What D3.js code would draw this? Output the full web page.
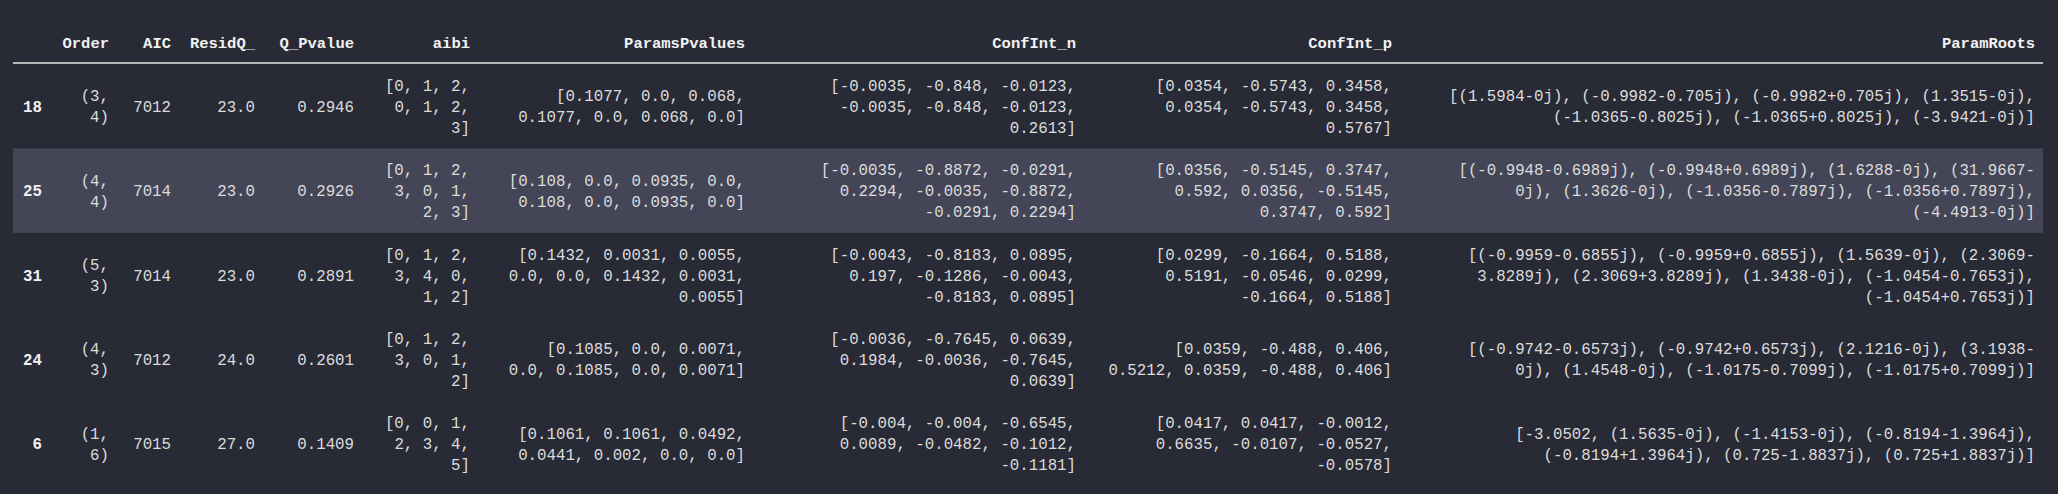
<!DOCTYPE html>
<html><head><meta charset="utf-8">
<script src="https://cdn.jsdelivr.net/npm/d3@7"></script>
<style>html,body{margin:0;background:#282a36;}</style>
</head><body><svg id="c" width="2058" height="494"></svg>
<script>
const columns = ["", "Order", "AIC", "ResidQ_", "Q_Pvalue", "aibi", "ParamsPvalues", "ConfInt_n", "ConfInt_p", "ParamRoots"];
const rowIndex = ["18", "25", "31", "24", "6"];
const order = [["(3,","4)"],["(4,","4)"],["(5,","3)"],["(4,","3)"],["(1,","6)"]];
const aic = ["7012","7014","7014","7012","7015"];
const residQ = ["23.0","23.0","23.0","24.0","27.0"];
const qPvalue = ["0.2946","0.2926","0.2891","0.2601","0.1409"];
const aibi = [["[0, 1, 2,","0, 1, 2,","3]"],["[0, 1, 2,","3, 0, 1,","2, 3]"],["[0, 1, 2,","3, 4, 0,","1, 2]"],["[0, 1, 2,","3, 0, 1,","2]"],["[0, 0, 1,","2, 3, 4,","5]"]];
const paramsPvalues = [
 ["[0.1077, 0.0, 0.068,","0.1077, 0.0, 0.068, 0.0]"],
 ["[0.108, 0.0, 0.0935, 0.0,","0.108, 0.0, 0.0935, 0.0]"],
 ["[0.1432, 0.0031, 0.0055,","0.0, 0.0, 0.1432, 0.0031,","0.0055]"],
 ["[0.1085, 0.0, 0.0071,","0.0, 0.1085, 0.0, 0.0071]"],
 ["[0.1061, 0.1061, 0.0492,","0.0441, 0.002, 0.0, 0.0]"]];
const confIntN = [
 ["[-0.0035, -0.848, -0.0123,","-0.0035, -0.848, -0.0123,","0.2613]"],
 ["[-0.0035, -0.8872, -0.0291,","0.2294, -0.0035, -0.8872,","-0.0291, 0.2294]"],
 ["[-0.0043, -0.8183, 0.0895,","0.197, -0.1286, -0.0043,","-0.8183, 0.0895]"],
 ["[-0.0036, -0.7645, 0.0639,","0.1984, -0.0036, -0.7645,","0.0639]"],
 ["[-0.004, -0.004, -0.6545,","0.0089, -0.0482, -0.1012,","-0.1181]"]];
const confIntP = [
 ["[0.0354, -0.5743, 0.3458,","0.0354, -0.5743, 0.3458,","0.5767]"],
 ["[0.0356, -0.5145, 0.3747,","0.592, 0.0356, -0.5145,","0.3747, 0.592]"],
 ["[0.0299, -0.1664, 0.5188,","0.5191, -0.0546, 0.0299,","-0.1664, 0.5188]"],
 ["[0.0359, -0.488, 0.406,","0.5212, 0.0359, -0.488, 0.406]"],
 ["[0.0417, 0.0417, -0.0012,","0.6635, -0.0107, -0.0527,","-0.0578]"]];
const paramRoots = [
 ["[(1.5984-0j), (-0.9982-0.705j), (-0.9982+0.705j), (1.3515-0j),","(-1.0365-0.8025j), (-1.0365+0.8025j), (-3.9421-0j)]"],
 ["[(-0.9948-0.6989j), (-0.9948+0.6989j), (1.6288-0j), (31.9667-","0j), (1.3626-0j), (-1.0356-0.7897j), (-1.0356+0.7897j),","(-4.4913-0j)]"],
 ["[(-0.9959-0.6855j), (-0.9959+0.6855j), (1.5639-0j), (2.3069-","3.8289j), (2.3069+3.8289j), (1.3438-0j), (-1.0454-0.7653j),","(-1.0454+0.7653j)]"],
 ["[(-0.9742-0.6573j), (-0.9742+0.6573j), (2.1216-0j), (3.1938-","0j), (1.4548-0j), (-1.0175-0.7099j), (-1.0175+0.7099j)]"],
 ["[-3.0502, (1.5635-0j), (-1.4153-0j), (-0.8194-1.3964j),","(-0.8194+1.3964j), (0.725-1.8837j), (0.725+1.8837j)]"]];
const colRightEdges = [42, 109, 171, 255, 354, 470, 745, 1076, 1392, 2035];

const cells = rowIndex.map((r,i)=>[[r],order[i],[aic[i]],[residQ[i]],[qPvalue[i]],aibi[i],paramsPvalues[i],confIntN[i],confIntP[i],paramRoots[i]]);

const svg = d3.select("#c");
const font = "'Liberation Mono','DejaVu Sans Mono',monospace";
const y = d3.scaleBand().domain(rowIndex).range([64, 486]);
const lineH = 21;

svg.append("g").selectAll("rect").data(rowIndex.filter((d,i)=>i===1)).join("rect")
  .attr("x",13).attr("width",2030).attr("y",d=>y(d)).attr("height",y.bandwidth()).attr("fill","#444657");

svg.append("g").selectAll("text").data(columns).join("text")
  .attr("x",(d,i)=>colRightEdges[i]).attr("y",43).attr("dy","0.35em")
  .attr("text-anchor","end").attr("fill","#f2f2f2").attr("font-weight","bold")
  .attr("font-family",font).attr("font-size",15.5).text(d=>d);

svg.append("line").attr("x1",13).attr("x2",2043).attr("y1",63).attr("y2",63).attr("stroke","#e8e8e8").attr("stroke-width",1.5);

const rowsG = svg.append("g").selectAll("g").data(cells).join("g")
  .attr("transform",(d,i)=>`translate(0,${y(rowIndex[i])+y.bandwidth()/2})`);
rowsG.each(function(row){
  const g = d3.select(this);
  row.forEach((lines,ci)=>{
    const off = -(lines.length-1)*lineH/2;
    g.selectAll(null).data(lines).join("text")
      .attr("x",colRightEdges[ci]).attr("y",(d,k)=>off+k*lineH).attr("dy","0.35em")
      .attr("text-anchor","end").attr("fill",ci===0?"#f2f2f2":"#dcdcdc")
      .attr("font-weight",ci===0?"bold":"normal")
      .attr("font-family",font).attr("font-size",15.75).attr("xml:space","preserve").text(d=>d);
  });
});
</script></body></html>
